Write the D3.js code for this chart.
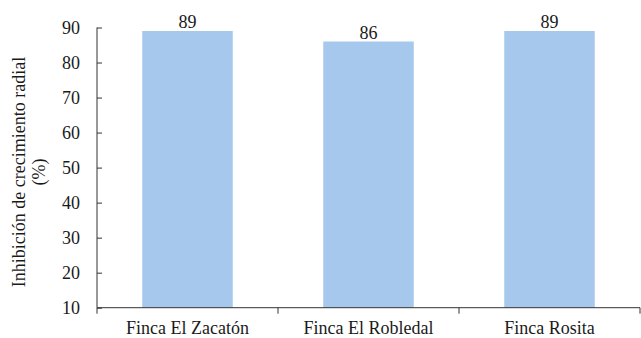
<!DOCTYPE html>
<html>
<head>
<meta charset="utf-8">
<script src="https://cdn.jsdelivr.net/npm/d3@7"></script>
<style>
  html, body { margin: 0; padding: 0; background: #fff; }
  svg { display: block; }
  svg text { font-family: "Times New Roman", "Liberation Serif", "DejaVu Serif", serif; fill: #1a1a1a; }
</style>
</head>
<body>
<svg id="chart" width="641" height="338"></svg>
<script>
// Radial growth inhibition by farm
const categories = ["Finca El Zacatón", "Finca El Robledal", "Finca Rosita"];
const values = [89, 86, 89];
const yTicks = [10, 20, 30, 40, 50, 60, 70, 80, 90];
const yTitle = ["Inhibición de crecimiento radial", "(%)"];

const FONT = '"Times New Roman", "Liberation Serif", "DejaVu Serif", serif';
const FS = 18;
const svg = d3.select("#chart");
const margin = { left: 97, right: 1, top: 27.5, bottom: 30.3 };
const W = 641, H = 338;

const x = d3.scaleBand()
  .domain(categories)
  .range([margin.left, W - margin.right])
  .paddingInner(0.5)
  .paddingOuter(0.25);

const y = d3.scaleLinear()
  .domain([10, 90])
  .range([H - margin.bottom, margin.top]);

// Bars
svg.append("g")
  .selectAll("rect")
  .data(values)
  .join("rect")
  .attr("x", (d, i) => x(categories[i]))
  .attr("y", d => y(d))
  .attr("width", x.bandwidth())
  .attr("height", d => y(10) - y(d))
  .attr("fill", "#a6c8ec");

// Value labels
svg.append("g")
  .selectAll("text")
  .data(values)
  .join("text")
  .attr("x", (d, i) => x(categories[i]) + x.bandwidth() / 2)
  .attr("y", d => y(d) - 3)
  .attr("text-anchor", "middle")
  .attr("font-size", FS)
  .attr("font-family", FONT)
  .text(d => d);

// Y axis with inward ticks
const yAxis = d3.axisLeft(y).tickValues(yTicks).tickSize(-5).tickPadding(17);
const gy = svg.append("g")
  .attr("transform", `translate(${margin.left},0)`)
  .call(yAxis)
  .attr("font-family", FONT)
  .attr("font-size", FS);
gy.select(".domain").attr("stroke", "#333").attr("d", `M0,${y(90)}V${y(10)}`);
gy.selectAll(".tick line").attr("stroke", "#333");
gy.selectAll(".tick text").attr("fill", "#1a1a1a");

// X axis: ticks at category boundaries, pointing down
const boundaries = [margin.left, ...categories.map(c => x(c) - x.step() * x.paddingInner() / 2 + x.step())];
const xAxisG = svg.append("g")
  .attr("transform", `translate(0,${y(10)})`)
  .attr("font-family", FONT);
xAxisG.append("line")
  .attr("x1", margin.left).attr("x2", boundaries[boundaries.length - 1])
  .attr("stroke", "#333");
xAxisG.selectAll(".b")
  .data(boundaries)
  .join("line")
  .attr("x1", d => d).attr("x2", d => d)
  .attr("y1", 0).attr("y2", 6)
  .attr("stroke", "#333");
xAxisG.selectAll("text.cat")
  .data(categories)
  .join("text")
  .attr("class", "cat")
  .attr("x", d => x(d) + x.bandwidth() / 2)
  .attr("y", 26)
  .attr("text-anchor", "middle")
  .attr("font-size", FS)
  .text(d => d);

// Y axis title
const title = svg.append("text")
  .attr("transform", `translate(24.5,172) rotate(-90)`)
  .attr("text-anchor", "middle")
  .attr("font-family", FONT)
  .attr("font-size", FS);
title.selectAll("tspan")
  .data(yTitle)
  .join("tspan")
  .attr("x", 0)
  .attr("dy", (d, i) => i === 0 ? 0 : 20)
  .text(d => d);
</script>
</body>
</html>
